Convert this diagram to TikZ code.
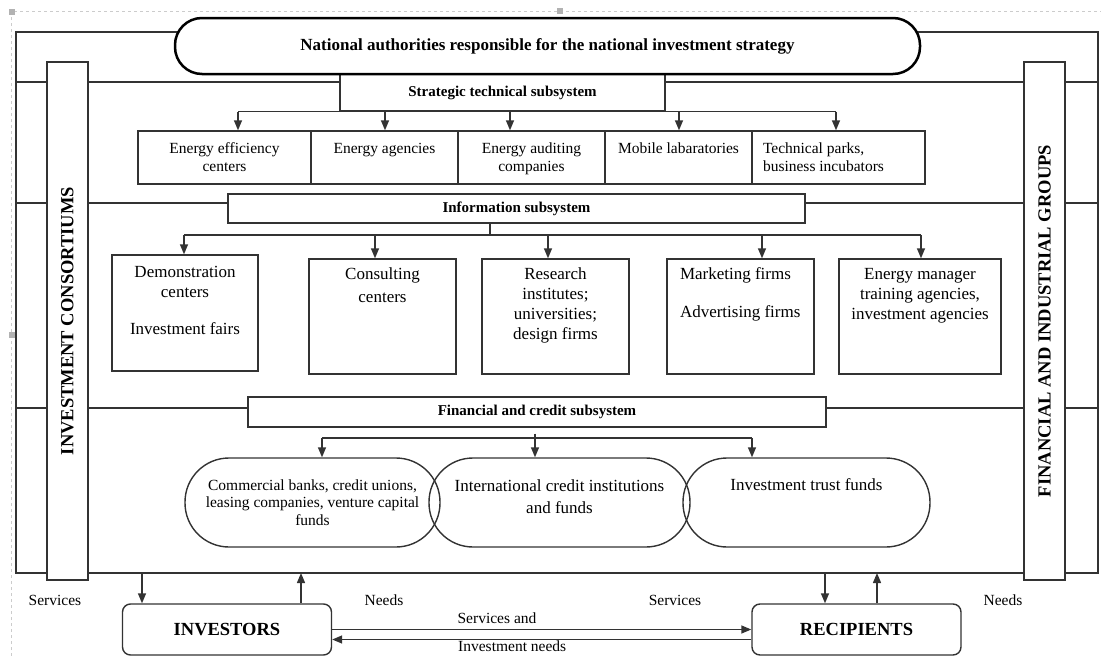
\documentclass[tikz,border=0pt]{standalone}
\usepackage{fontspec}
\setmainfont{Liberation Serif}
\usetikzlibrary{arrows.meta}
\tikzset{
  ln/.style={draw=black!80, line width=1.4pt},
  arr/.style={ln, -{Triangle[length=10pt,width=8pt]}},
  cell/.style={ln, fill=white, inner sep=0pt, font=\fontsize{15.5}{18}\selectfont},
  icell/.style={cell, font=\fontsize{17}{20}\selectfont},
  title/.style={ln, fill=white, inner sep=0pt, font=\fontsize{15}{18}\selectfont\bfseries},
  head/.style={draw=black, line width=2.5pt, fill=white, rounded corners=27pt, minimum width=745pt, minimum height=56pt, font=\fontsize{17}{20}\selectfont\bfseries},
  fund/.style={ln, rounded corners=44pt, inner sep=0pt, align=center, minimum height=89pt},
  side/.style={ln, fill=white, rotate=90, minimum width=518pt, minimum height=41pt, font=\fontsize{18.5}{20}\selectfont\bfseries},
  party/.style={ln, fill=white, rounded corners=8pt, minimum width=209pt, minimum height=51pt, font=\fontsize{18.5}{20}\selectfont\bfseries},
  note/.style={font=\fontsize{15.5}{18}\selectfont, inner sep=0pt},
}
\newcommand{\cellbox}[8]{\node[#1, minimum width=#5pt, minimum height=#6pt] (#2) at (#3,#4) {\parbox[c][\dimexpr#6pt-#7pt-#7pt\relax][t]{\dimexpr#5pt-8pt\relax}{\centering #8}};}

\begin{document}
\begin{tikzpicture}[x=1pt,y=-1pt]
\useasboundingbox (0,0) rectangle (1101,656);
% editor frame
\draw[gray!40, dashed, line width=0.8pt] (11,656) -- (11,11) -- (1101,11);
\foreach \x/\y in {12/12,560/11,12/335} \fill[gray!60] (\x-3,\y-3) rectangle (\x+3,\y+3);

% outer frame and bands
\draw[ln] (16,32) rectangle (1098,573);
\foreach \y in {82,203,408} \draw[ln] (16,\y) -- (1098,\y);

% side columns
\node[side] (ic) at (67.5,321) {INVESTMENT CONSORTIUMS};
\node[side] (fg) at (1044.5,321) {FINANCIAL AND INDUSTRIAL GROUPS};

% strategic technical level
\node[title, minimum width=325pt, minimum height=37pt] (stb) at (502.5,92.5) {Strategic technical subsystem};
\node[head] (nat) at (547.5,46) {National authorities responsible for the national investment strategy};
\cellbox{cell}{ee}{224.5}{157.5}{173}{53}{12}{Energy efficiency\\centers}
\cellbox{cell}{ea}{384.5}{157.5}{147}{53}{12}{Energy agencies}
\cellbox{cell}{eac}{531.5}{157.5}{147}{53}{12}{Energy auditing\\companies}
\cellbox{cell}{ml}{678.5}{157.5}{147}{53}{12}{Mobile labaratories}
\cellbox{cell}{tp}{838.5}{157.5}{173}{53}{12}{\raggedright\leftskip=7pt Technical parks,\\business incubators}
\draw[ln] (stb.south -| 238,0) -- (stb.south -| 836,0);
\foreach \x/\n in {238/ee,385/ea,510/eac,679/ml,836/tp}
  \draw[arr] (stb.south -| \x,0) -- (\n.north -| \x,0);

% information level
\node[title, minimum width=577pt, minimum height=29pt] (info) at (516.5,208.5) {Information subsystem};
\cellbox{icell}{dem}{185}{313}{146}{116}{11}{Demonstration\\centers\\[17pt]Investment fairs}
\cellbox{icell}{cons}{382.5}{316.5}{147}{115}{9}{Consulting\\[3pt]centers}
\cellbox{icell}{res}{555.5}{316.5}{147}{115}{9}{Research\\institutes;\\universities;\\design firms}
\cellbox{icell}{mkt}{740.5}{316.5}{147}{115}{9}{\raggedright\leftskip=9pt Marketing firms\\[18pt]Advertising firms}
\cellbox{icell}{emt}{920}{316.5}{162}{115}{9}{Energy manager\\training agencies,\\investment agencies}
\coordinate (ibus) at (490,235);
\draw[ln] (info.south -| ibus) -- (ibus);
\draw[ln] (ibus -| 184,0) -- (ibus -| 921,0);
\foreach \x/\n in {184/dem,375/cons,548/res,762/mkt,921/emt}
  \draw[arr] (ibus -| \x,0) -- (\n.north -| \x,0);

% financial level
\node[title, minimum width=578pt, minimum height=30pt] (fin) at (537,412) {Financial and credit subsystem};
\node[fund, minimum width=255pt, font=\fontsize{15.5}{17.5}\selectfont] (cb) at (312.5,502.5) {Commercial banks, credit unions,\\leasing companies, venture capital\\funds};
\node[fund, minimum width=261pt, font=\fontsize{17}{22}\selectfont] (icf) at (559.5,502.5) {International credit institutions\\and funds\\[-10pt]~};
\node[fund, minimum width=247pt, font=\fontsize{17}{20}\selectfont, text depth=35pt] (itf) at (806.5,502.5) {Investment trust funds};
\coordinate (fbus) at (535,438);
\draw[ln] ([yshift=-6pt]fin.south -| fbus) -- (fbus);
\draw[ln] (fbus -| 322,0) -- (fbus -| 752,0);
\foreach \x/\n in {322/cb,535/icf,752/itf}
  \draw[arr] (fbus -| \x,0) -- (\n.north -| \x,0);

% investors and recipients
\node[party] (inv) at (227,629.5) {INVESTORS};
\node[party] (rec) at (856.5,629.5) {RECIPIENTS};
\coordinate (invdn) at (142,573);
\coordinate (invup) at (301,573);
\coordinate (recdn) at (825,573);
\coordinate (recup) at (877,573);
\draw[arr] (invdn) -- (invdn |- inv.north);
\draw[arr] (invup |- inv.north) -- (invup);
\draw[arr] (recdn) -- (recdn |- rec.north);
\draw[arr] (recup |- rec.north) -- (recup);
\draw[arr] (inv.east) -- (inv.east -| rec.west);
\draw[arr] ([yshift=-10pt]rec.west) -- ([yshift=-10pt]rec.west -| inv.east);
\node[note] (svl) at (55,600) {Services};
\node[note] (ndl) at (384,600) {Needs};
\node[note] (svr) at (675,600) {Services};
\node[note] (ndr) at (1003,600) {Needs};
\node[note] (sva) at (497,618) {Services and};
\node[note, anchor=north west] (inn) at (458,641) {Investment needs};
\end{tikzpicture}
\end{document}
